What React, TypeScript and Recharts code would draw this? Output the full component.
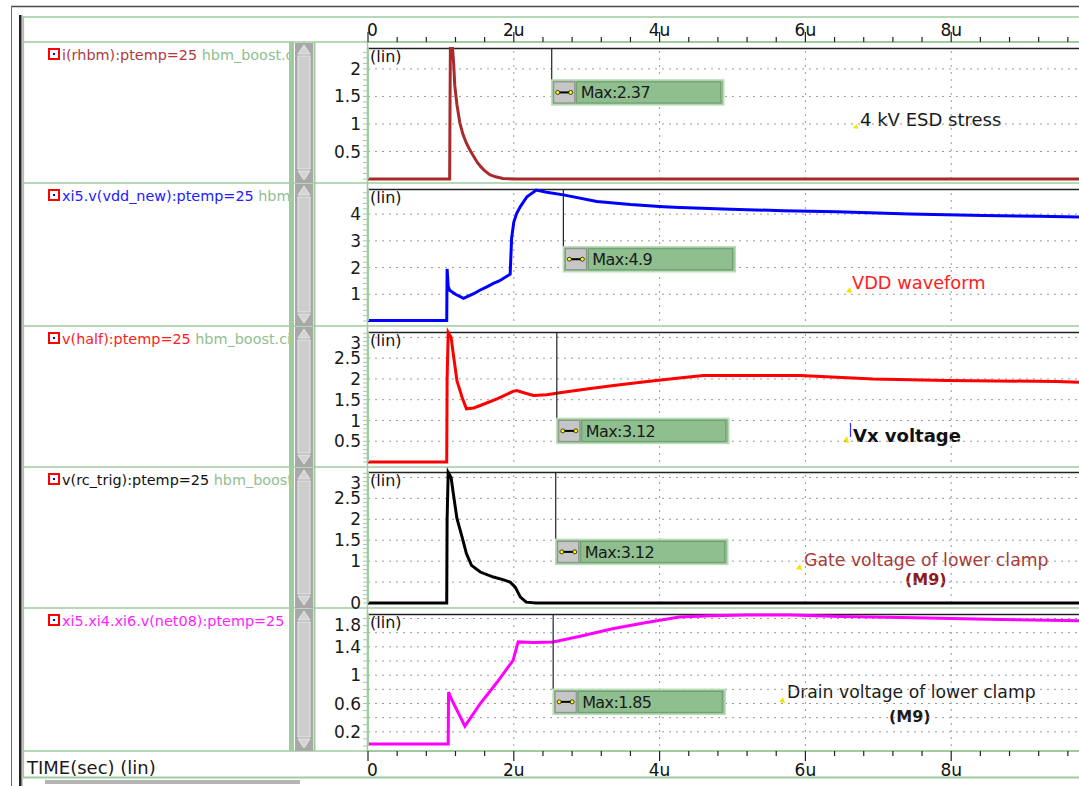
import React from 'react';
import { LineChart, Line, XAxis, YAxis, ReferenceLine, ReferenceDot } from 'recharts';

const FONT = '"DejaVu Sans", "Noto Sans", sans-serif';
const GREEN = '#9fcb9f';
const LGREEN = '#8fc08f';
const X_MAX = 9.753;

// ---- time axis ----
const TIME_MAJOR = [0, 2, 4, 6, 8];
const TIME_LABELS = ['0', '2u', '4u', '6u', '8u'];
const TIME_MINOR = [0, 0.4, 0.8, 1.2, 1.6, 2, 2.4, 2.8, 3.2, 3.6, 4, 4.4, 4.8, 5.2, 5.6, 6, 6.4, 6.8, 7.2, 7.6, 8, 8.4, 8.8, 9.2, 9.6];

// ---- series (time in us) ----
const RHBM_T = [0, 1.12, 1.125, 1.13, 1.16, 1.175, 1.19, 1.22, 1.26, 1.3, 1.35, 1.4, 1.45, 1.5, 1.55, 1.6, 1.67, 1.75, 1.85, 2.0, 9.753];
const RHBM_V = [0, 0, 1.3, 2.37, 2.37, 2.1, 1.7, 1.35, 1.02, 0.82, 0.65, 0.52, 0.41, 0.3, 0.22, 0.15, 0.08, 0.04, 0.01, 0, 0];

const VDD_T = [0, 1.08, 1.085, 1.1, 1.12, 1.2, 1.31, 1.45, 1.54, 1.63, 1.72, 1.8, 1.95, 1.97, 2.0, 2.04, 2.09, 2.18, 2.31, 2.45, 2.68, 3.14, 3.6, 4.05, 4.28, 4.97, 5.7, 6.43, 7.43, 8.44, 9.2, 9.753];
const VDD_V = [0.02, 0.02, 1.95, 1.3, 1.15, 1.0, 0.85, 1.02, 1.16, 1.28, 1.41, 1.5, 1.75, 3.1, 3.7, 4.03, 4.28, 4.65, 4.9, 4.82, 4.72, 4.47, 4.36, 4.28, 4.25, 4.18, 4.13, 4.09, 4.0, 3.95, 3.92, 3.89];

const HALF_T = [0, 1.08, 1.085, 1.1, 1.14, 1.17, 1.22, 1.29, 1.35, 1.45, 1.54, 1.77, 1.99, 2.04, 2.15, 2.27, 2.45, 2.68, 3.0, 3.37, 3.8, 4.27, 4.6, 5.2, 5.93, 6.93, 7.94, 9.45, 9.753];
const HALF_V = [0, 0, 1.98, 3.12, 3.0, 2.6, 1.96, 1.56, 1.28, 1.3, 1.36, 1.52, 1.7, 1.72, 1.66, 1.6, 1.62, 1.68, 1.76, 1.84, 1.93, 2.02, 2.08, 2.08, 2.08, 2.0, 1.96, 1.94, 1.92];

const TRIG_T = [0, 1.08, 1.085, 1.1, 1.14, 1.17, 1.22, 1.29, 1.35, 1.42, 1.54, 1.72, 1.85, 1.95, 2.02, 2.09, 2.17, 2.3, 9.753];
const TRIG_V = [0, 0, 1.99, 3.12, 3.0, 2.62, 2.02, 1.58, 1.18, 0.9, 0.74, 0.62, 0.56, 0.5, 0.38, 0.14, 0.02, 0, 0];

const NET08_T = [0, 1.1, 1.105, 1.15, 1.33, 1.54, 1.77, 1.99, 2.06, 2.27, 2.54, 2.91, 3.37, 3.8, 4.27, 4.7, 5.2, 5.8, 6.5, 7.5, 8.5, 9.753];
const NET08_V = [0.03, 0.03, 0.76, 0.65, 0.28, 0.6, 0.9, 1.21, 1.47, 1.46, 1.47, 1.55, 1.66, 1.74, 1.82, 1.84, 1.85, 1.85, 1.83, 1.81, 1.79, 1.77];

// ---- y tick labels ----
const RHBM_TICKS = [0.5, 1, 1.5, 2];
const VDD_TICKS = [1, 2, 3, 4];
const HALF_TICKS = [0.5, 1, 1.5, 2, 2.5, 3];
const TRIG_TICKS = [0, 1, 1.5, 2, 2.5, 3];
const NET08_TICKS = [0.2, 0.6, 1, 1.4, 1.8];

const RHBM_GRID = [0.5, 1, 1.5, 2];
const VDD_GRID = [1, 2, 3, 4];
const HALF_GRID = [0.5, 1, 1.5, 2, 2.5, 3];
const TRIG_GRID = [0.5, 1, 1.5, 2, 2.5, 3];
const NET08_GRID = [0.2, 0.4, 0.6, 0.8, 1, 1.2, 1.4, 1.6, 1.8];

const SERIES_NAMES = ['i(rhbm):ptemp=25', 'xi5.v(vdd_new):ptemp=25', 'v(half):ptemp=25', 'v(rc_trig):ptemp=25', 'xi5.xi4.xi6.v(net08):ptemp=25'];
const SERIES_COLORS = ['#a82a2a', '#0000ff', '#ff0000', '#000000', '#ff00ff'];
const LABEL_COLORS = ['#b03a3a', '#2020ff', '#ff2020', '#111111', '#ff22ff'];
const MAX_TEXTS = ['Max:2.37', 'Max:4.9', 'Max:3.12', 'Max:3.12', 'Max:1.85'];
const MAX_T = [2.52, 2.68, 2.59, 2.575, 2.54];
const MAX_V = [1.8, 2.78, 1.05, 1.52, 0.8];

const zip = (ts: number[], vs: number[]) => ts.map((t, i) => ({ t, v: vs[i] }));
const steps = (a: number, b: number, s: number) => {
  const out: number[] = [];
  for (let v = a; v <= b + 1e-9; v += s) out.push(Math.round(v * 1000) / 1000);
  return out;
};

const PANELS = [
  { top: 48, height: 131, domain: [0, 2.38], data: zip(RHBM_T, RHBM_V), labels: RHBM_TICKS, grid: RHBM_GRID, minor: steps(0, 2.3, 0.1) },
  { top: 189, height: 132, domain: [0, 4.94], data: zip(VDD_T, VDD_V), labels: VDD_TICKS, grid: VDD_GRID, minor: steps(0, 4.8, 0.2) },
  { top: 332, height: 130, domain: [0, 3.13], data: zip(HALF_T, HALF_V), labels: HALF_TICKS, grid: HALF_GRID, minor: steps(0, 3.1, 0.1) },
  { top: 472, height: 131, domain: [0, 3.13], data: zip(TRIG_T, TRIG_V), labels: TRIG_TICKS, grid: TRIG_GRID, minor: steps(0, 3.1, 0.1) },
  { top: 614, height: 132, domain: [0, 1.864], data: zip(NET08_T, NET08_V), labels: NET08_TICKS, grid: NET08_GRID, minor: steps(0, 1.8, 0.1) },
];

const SEPARATORS = [42, 183, 326, 467, 608, 751];

function MaxBox(props: any) {
  const { cx, cy, text } = props;
  const w = 172, h = 25;
  return (
    <g>
      <line x1={cx} y1={0} x2={cx} y2={cy} stroke="#222" strokeWidth={1.2} />
      <rect x={cx} y={cy} width={w} height={h} fill="#8fbf8f" stroke="#b9dcb9" strokeWidth={1.5} />
      <rect x={cx + 2} y={cy + 2} width={21} height={21} fill="#c6c6c6" stroke="#8c8c8c" strokeWidth={1} />
      <line x1={cx + 6} y1={cy + 12.5} x2={cx + 19} y2={cy + 12.5} stroke="#000" strokeWidth={2} />
      <circle cx={cx + 6} cy={cy + 12.5} r={2} fill="#ffff00" stroke="#000" strokeWidth={0.7} />
      <circle cx={cx + 19} cy={cy + 12.5} r={2} fill="#ffff00" stroke="#000" strokeWidth={0.7} />
      <rect x={cx + 25} y={cy + 2} width={w - 28} height={21} fill="#8fbf8f" stroke="#6f9a6f" strokeWidth={1} />
      <text x={cx + 29} y={cy + 18.5} fontSize={16} fontFamily={FONT} fill="#1a1a1a" letterSpacing={-0.6}>{text}</text>
    </g>
  );
}

function TimeTick(props: any) {
  const { x, payload, axisY, dir, labelY } = props;
  const v = payload.value;
  const idx = TIME_MAJOR.findIndex((m) => Math.abs(m - v) < 1e-6);
  const major = idx >= 0;
  const len = major ? 10 : 5;
  return (
    <g>
      <line x1={x} y1={axisY} x2={x} y2={axisY + dir * len} stroke="#222" strokeWidth={1.2} />
      {major && (
        <text x={idx === 0 ? x - 1 : x} y={labelY} textAnchor={idx === 0 ? 'start' : 'middle'} fontSize={17} fontFamily={FONT} fill="#111">
          {TIME_LABELS[idx]}
        </text>
      )}
    </g>
  );
}

function YTick(props: any) {
  const { x, y, payload, labels } = props;
  const v = payload.value;
  const show = labels.some((l: number) => Math.abs(l - v) < 1e-6);
  if (!show) return <g />;
  const ty = Math.max(y, 10.5);
  return (
    <text x={x} y={ty} dy="0.355em" textAnchor="end" fontSize={17} fontFamily={FONT} fill="#1a1a1a">
      {String(v)}
    </text>
  );
}

function Panel({ p, i }: any) {
  return (
    <div style={{ position: 'absolute', left: 315, top: p.top, width: 764, height: p.height }}>
      <LineChart width={764} height={p.height} data={p.data} margin={{ top: 0, right: 0, bottom: 0, left: 0 }}>
        <XAxis dataKey="t" type="number" domain={[0, X_MAX]} hide allowDataOverflow />
        <YAxis
          type="number"
          domain={p.domain}
          width={53}
          ticks={p.minor}
          interval={0}
          tick={<YTick labels={p.labels} />}
          tickLine={{ stroke: GREEN }}
          tickSize={5}
          tickMargin={2}
          axisLine={{ stroke: GREEN, strokeWidth: 2 }}
        />
        {TIME_MAJOR.slice(1).map((x) => (
          <ReferenceLine key={'vx' + x} x={x} stroke="#9a9a9a" strokeDasharray="2 5" strokeWidth={1} />
        ))}
        {p.grid.map((y: number) => (
          <ReferenceLine key={'gy' + y} y={y} stroke="#9a9a9a" strokeDasharray="2 5" strokeWidth={1} />
        ))}
        <Line type="linear" dataKey="v" stroke={SERIES_COLORS[i]} strokeWidth={3} dot={false} isAnimationActive={false} />
        <ReferenceDot x={MAX_T[i]} y={MAX_V[i]} shape={(sp: any) => <MaxBox cx={sp.cx} cy={sp.cy} text={MAX_TEXTS[i]} />} />
      </LineChart>
    </div>
  );
}

function ScrollBar({ y0, y1 }: any) {
  const x = 295, w = 18;
  return (
    <g>
      <rect x={x} y={y0 + 1} width={w} height={y1 - y0 - 1} fill="#a8a8a8" />
      <polygon points={`${x + 3},${y0 + 12} ${x + 9},${y0 + 3} ${x + 15},${y0 + 12}`} fill="#d4d4d4" stroke="#e6e6e6" strokeWidth={1} />
      <rect x={x + 3} y={y0 + 14} width={12} height={y1 - y0 - 28} fill="#cdcdcd" stroke="#e8e8e8" strokeWidth={1} />
      <polygon points={`${x + 3},${y1 - 12} ${x + 9},${y1 - 3} ${x + 15},${y1 - 12}`} fill="#d4d4d4" stroke="#e6e6e6" strokeWidth={1} />
    </g>
  );
}

function Overlay() {
  return (
    <svg width={1079} height={786} style={{ position: 'absolute', left: 0, top: 0 }}>
      <defs>
        <clipPath id="labelClip">
          <rect x={23} y={0} width={266} height={786} />
        </clipPath>
      </defs>
      {/* outer frame */}
      <line x1={11} y1={6.5} x2={1079} y2={6.5} stroke="#4a4a4a" strokeWidth={1.5} />
      <line x1={11.5} y1={6} x2={11.5} y2={786} stroke="#6a6a6a" strokeWidth={1} />
      <rect x={19} y={15} width={2} height={771} fill="#222" />
      <rect x={21} y={15} width={1.5} height={771} fill="#888" />
      {/* green frame lines */}
      <line x1={23} y1={17} x2={1079} y2={17} stroke={GREEN} strokeWidth={1.5} />
      {SEPARATORS.map((y) => (
        <line key={'sep' + y} x1={23} y1={y} x2={1079} y2={y} stroke={GREEN} strokeWidth={1.5} />
      ))}
      <line x1={23} y1={777.5} x2={1079} y2={777.5} stroke={GREEN} strokeWidth={2} />
      <line x1={23.5} y1={17} x2={23.5} y2={778} stroke={GREEN} strokeWidth={1.2} />
      <rect x={289} y={42} width={5} height={709} fill={GREEN} />
      <rect x={313.5} y={42} width={2} height={709} fill={GREEN} />
      <line x1={367.5} y1={42} x2={367.5} y2={751} stroke={GREEN} strokeWidth={1.5} />
      <rect x={45} y={780} width={255} height={4} fill="#b5b5b5" />
      {/* scrollbars */}
      {SEPARATORS.slice(0, 5).map((y, k) => (
        <ScrollBar key={'sb' + k} y0={y} y1={SEPARATORS[k + 1]} />
      ))}
      {/* plot top borders and (lin) */}
      {PANELS.map((p, k) => (
        <g key={'pb' + k}>
          <line x1={368} y1={p.top + 0.5} x2={1079} y2={p.top + 0.5} stroke="#222" strokeWidth={1.6} />
          <text x={370} y={p.top + 14} fontSize={16} fontFamily={FONT} fill="#111">(lin)</text>
        </g>
      ))}
      {/* series labels */}
      <g clipPath="url(#labelClip)">
        {SERIES_NAMES.map((name, k) => {
          const y0 = SEPARATORS[k];
          return (
            <g key={'lab' + k}>
              <rect x={49} y={y0 + 7} width={10} height={10} fill="#fff" stroke="#ff0000" strokeWidth={2} />
              <rect x={53} y={y0 + 11} width={2} height={2} fill="#0000ff" />
              <text x={62} y={y0 + 18} fontSize={14.4} fontFamily={FONT}>
                <tspan fill={LABEL_COLORS[k]}>{name}</tspan>
                <tspan fill={LGREEN} dx={4.5}>hbm_boost.cir</tspan>
              </text>
            </g>
          );
        })}
      </g>
      {/* bottom label */}
      <text x={27} y={774} fontSize={18} fontFamily={FONT} fill="#1a1a1a">TIME(sec) (lin)</text>
      {/* annotations */}
      <polygon points="853,128 857,124 858,129" fill="#f2e600" />
      <text x={860} y={126} fontSize={18} fontFamily={FONT} fill="#1a1a1a">4 kV ESD stress</text>
      <polygon points="846,292 850,287 852,293" fill="#f2e600" />
      <text x={852} y={289} fontSize={17.8} fontFamily={FONT} fill="#ff2020">VDD waveform</text>
      <polygon points="843,442 847,436 849,443" fill="#f2e600" />
      <line x1={850.5} y1={423} x2={850.5} y2={437} stroke="#3030ff" strokeWidth={1.2} />
      <text x={853} y={442} fontSize={18} fontWeight="bold" fontFamily={FONT} fill="#111">Vx voltage</text>
      <polygon points="796,569 800,564 802,570" fill="#f2e600" />
      <text x={804} y={566} fontSize={17.3} fontFamily={FONT} fill="#a83838">Gate voltage of lower clamp</text>
      <text x={905} y={585} fontSize={16} fontWeight="bold" fontFamily={FONT} fill="#8b1a1a">(M9)</text>
      <polygon points="779,702 783,697 785,703" fill="#f2e600" />
      <text x={787} y={698} fontSize={17.2} fontFamily={FONT} fill="#1a1a1a">Drain voltage of lower clamp</text>
      <text x={889} y={722} fontSize={16} fontWeight="bold" fontFamily={FONT} fill="#1a1a1a">(M9)</text>
    </svg>
  );
}

const AXIS_DATA = [{ t: 0 }, { t: X_MAX }];

function TimeAxis({ top, orientation }: any) {
  const isTop = orientation === 'top';
  return (
    <div style={{ position: 'absolute', left: 368, top, width: 711, height: 32 }}>
      <LineChart width={711} height={32} data={AXIS_DATA} margin={{ top: 0, right: 0, bottom: 0, left: 0 }}>
        <YAxis hide domain={[0, 1]} />
        <XAxis
          dataKey="t"
          type="number"
          orientation={orientation}
          domain={[0, X_MAX]}
          allowDataOverflow
          height={30}
          ticks={TIME_MINOR}
          interval={0}
          tickLine={false}
          axisLine={{ stroke: GREEN, strokeWidth: 2 }}
          tick={isTop ? <TimeTick axisY={30} dir={-1} labelY={24} /> : <TimeTick axisY={2} dir={1} labelY={26.5} />}
        />
      </LineChart>
    </div>
  );
}

export default function App() {
  return (
    <div style={{ position: 'absolute', left: 0, top: 0, width: 1079, height: 786, overflow: 'hidden', background: '#fff' }}>
      <style>{'.recharts-surface{overflow:visible}'}</style>
      <Overlay />
      <TimeAxis top={12} orientation="top" />
      {PANELS.map((p, i) => (
        <Panel key={i} p={p} i={i} />
      ))}
      <TimeAxis top={749} orientation="bottom" />
    </div>
  );
}
